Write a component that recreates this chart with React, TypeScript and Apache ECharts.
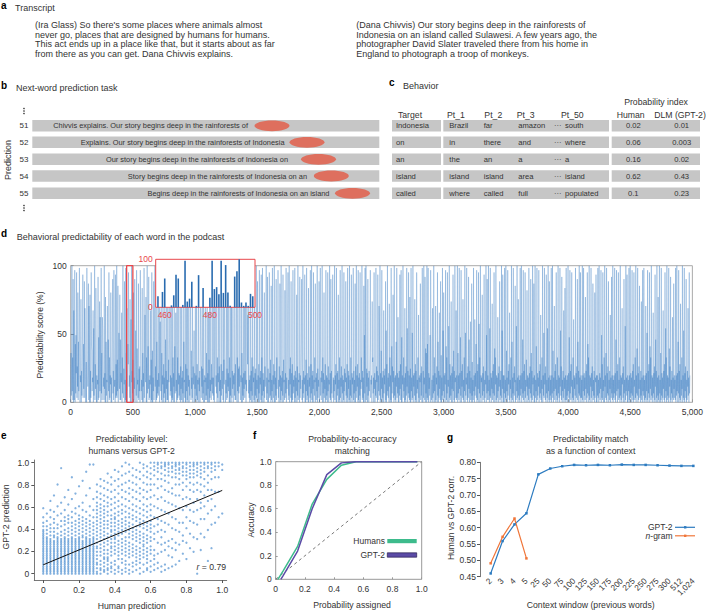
import React, { useEffect, useRef } from 'react';
import * as echarts from 'echarts';

const FONT = '"Liberation Sans", Arial, Helvetica, sans-serif';
const INK = '#333333';
const RED = '#E8474B';

// ---------- a. Transcript
const transcriptLeft = [
  "(Ira Glass) So there's some places where animals almost",
  'never go, places that are designed by humans for humans.',
  'This act ends up in a place like that, but it starts about as far',
  'from there as you can get. Dana Chivvis explains.',
];
const transcriptRight = [
  '(Dana Chivvis) Our story begins deep in the rainforests of',
  'Indonesia on an island called Sulawesi. A few years ago, the',
  'photographer David Slater traveled there from his home in',
  'England to photograph a troop of monkeys.',
];

// ---------- b. Next-word prediction task
const predictionRows = ['51', '52', '53', '54', '55'];
const predictionContexts = [
  'Chivvis explains. Our story begins deep in the rainforests of',
  'Explains. Our story begins deep in the rainforests of Indonesia',
  'Our story begins deep in the rainforests of Indonesia on',
  'Story begins deep in the rainforests of Indonesia on an',
  'Begins deep in the rainforests of Indonesia on an island',
];

// ---------- c. Behavior
const tableHeaders = ['Target', 'Pt_1', 'Pt_2', 'Pt_3', 'Pt_50', 'Human', 'DLM (GPT-2)'];
const targetWords = ['Indonesia', 'on', 'an', 'island', 'called'];
const pt1Words = ['Brazil', 'in', 'the', 'island', 'where'];
const pt2Words = ['far', 'there', 'an', 'island', 'called'];
const pt3Words = ['amazon', 'and', 'a', 'area', 'full'];
const pt50Words = ['south', 'where', 'a', 'island', 'populated'];
const humanProb = [0.02, 0.06, 0.16, 0.62, 0.1];
const gptProb = [0.01, 0.003, 0.02, 0.43, 0.23];

// shared 62-level code alphabet: char index / 61 -> fraction of full scale
const LEVELS = '0123456789abcdefghijklmnopqrstuvwxyzABCDEFGHIJKLMNOPQRSTUVWXYZ';

// ---------- d. Behavioral predictability (one code per sampled word)
const wordStep = 2.5;
const predictabilityCodes = [
  '0m3rZ5k1T0Fb1X0q4udW2g7N1r5fYs0c9K0e3hvV2q6jS2Gn0',
  '3i0Yla7cR1Hg0M0e2Wpn5b9F0x3kZ1h6Pu0c0a8U1t2dJ5Cg0',
  'Y4m1Cwi7b1Z6d0L0r3a9H0fs5W1k2c8N0b0gAT4e1Xp7a0V2h',
  '3Z2j5Q0cvb6M1s1d9E0k4Zb2f8S0a1Y0m5G0dqhWr7c2K0oB0',
  'Z9e4j0N1b6T0gwc3X0o8a2R1f5g0Xuc5a1P0m7d0Y2hDb9L0k',
  '0Z4ep6U1a2c8F0j1W0n0b5S1dxZ7g0I1r2a4Y3d7Q0fAa5Z1m',
  '0c8K0h2b4V0s0e6W1a1N0j9gtZ3c5T0b2X1k0d7H0p4aE5a0S1',
  'k2Z8d3c1M0g6Y1b0e4W0r9a2J0h0Z5f1V0c7O0a3dyX1n6b2T0',
  'g8kw0d6Z1c3W0h1a8R0b5e0Yvk2g7L1f4Z0a0c9U1b3m1X0d6E',
  '0j0Z2a5V1h8b4P3b1Y0fsZa7c4T0k2d9W0g5M0a0h3Zb6e1Q0j',
  '8Xqc0a4V1f2Z7d5N0k0b3S0Za2e6V0c8d3X1h1bzY0k5P0f4g7',
  'Za1c9W0m0b3L1d6Z2e8T0a5XuhDc4R2a0c1Y5e0k3W0g9b1M0d',
  '3f0Z2a6S1c0h4X0b8e1V0k3Y0d5a0N2g7crZ1b4U0f0a9W2d3j',
  '0Q1a5Y0c2h8Z0e0b3T1k6dpX2a0g7R0c1Z5b0e3V0j9a1O2d4Y',
  '0b6cGW1a3Z0f8k2S0d0h1X4a7c0Y2e0b5M0g3Z1a9d0U2c6kwT',
  '1a0Z4e2b8V0c0j5Y1d3a0P0g7b2X0h4Z1c0e6W0a3k9R0b1d5Z',
  '0f2a7S0cnY3b1e9Z0k4d0N2a6h0X1c3b0W5g0a8Z2d1T0e4jBV',
  '2b0a5Z1c8h0Y0d3e6M0a1k0X2b7g0Z4c0a1W5f0d9S3b0h2Y0e',
  '6c1Z0a3k0V2d8b0Y1e4a0R0g5Z2c7h0X1b0d3W0a6k9Z1e2b0Q',
  '0u4Ym0Z1f7d0T3b0e5hqX2a8c0Jik4b0W6d0a3Y2g9e0V1c5Hs',
  '3Z0d1n6X0b2e0F4c8f0S1w0h3Z5b2d0I7k0c1Y0p4g9M2e0Z3b',
  '1c0r7Y2d4C0b0e3V6h1X0t0c8Z2k5b0G1d0g3Y7x0e4W2c1L0f',
  '0Y5b1v2Z0c7d3K0h1e0W4a6k0D2b0c9R1d3g0Ys0e2Z8b1U0o',
  '4m0Z2q1Y0d6b3u0Xyh1a0G2c4Z0k5d0H1b8g0W3r0e2E6c1S0l',
  '0b3Y1w5N0c2d8X0p1k4W0a7y0Z2h1c3J0d6g0V5n1e0Z9b2F1c',
  '2Z0m4c1Y6d0t3X0e7h2K1a0k5Z0v3b8Y1d0g2U6s0e4A1b0R3i',
  '0a1Y5c0B3d7q2X0e1h6W0z4k0Z2c9b0M3d1g5V0a2e8Z0u4T1c',
  '5Z1a0x3Y2d0b6I1e4h0W3o0k8Z1c0b2C5d0g7S1a3e0Z2w6V0c',
  '0c4Y0a2Z1n5b0X3e8h1E0a6k2Z0r1b4Y0d3g9Q0a1y5Z2b0K3c',
  '1a0Y3c6Z0d2s4X1e0h5W2a0j7O3c0b1Y6d0g4T2m0e1Z8b3R0c',
  '0Z2a5p0Y1d3b7X0e2h4D1a0k6Z0c3v2Y8d1g0V4a2x0Z5b1S0c',
  '3a1Y0c4Z2n0b5H1e6h0W3a1k0Z4c2b0Y7w3g1U0a5e2F0b6P1c',
  '0Y1a3c0Z5d2t0X4e1h7W0a2k1B0c6b3Y0d2g8T1r0e4Z3b0W2c',
  '2a0Z1c5Y0d3b1L6e0h2W4q0k3Z1c0b7Y2d0g5R1a3e0N2b9V0c',
  '0c3Y2a0Z4d1b6X0u2h1W5a0k0Z7c2m1Y0d4g3S0a1e6D0b2U4c',
  '1Z0a2c4Y1d0s3X5e0h6W1a2k0Z3c1b0G8d2g0T4a0y1Z5b3V0c',
  '0a5Y1c0Z2d4b0X3e1h0W7a1k2Z0c4o3Y0d1g6Q2a0e3J1b0X5c',
  '3Y0a1c2H0d5v1X0e4h2W0p6k1Z3c0b2E4d0g1V7s0e2Z0b3L1c',
  '0Z4a0m1Y3d0b2F6e1h0W2x5k0Z1c3b0Y2o7g0U1a4e0C2b1R6c',
  '2a1Y0c3Z5d0r4X0e2h1I0a3k6Z0c2w1Y0d5g2T0a1e7G3b0W4c',
];
const highlightRange = [450, 500];
const insetStart = 457;
const insetScores = [
  23, 0, 32, 60, 0, 0, 4, 25, 68, 60, 0, 5, 97, 12, 18, 53, 0, 3, 67, 0, 40, 0,
  0, 20, 97, 38, 42, 27, 97, 30, 88, 31, 3, 0, 64, 75, 100, 10, 3, 10, 3, 28, 23,
];

// ---------- e. Humans vs GPT-2 (one string per human-prediction column k/50)
const scatterColumns = [
  '0123456789abcdefghijklmnoqsvA',
  '0123456789abcdefghijkmoqtx',
  '0123456789abcdefghijlnprvzE',
  '0123456789abcdefghiklnpsuyH',
  '0123456789abcdefghijkmprwBN',
  '0123456789abcdefghijlnqtxDW',
  '0123456789abcdefghijkmortvzG',
  '0123456789abcdefghijlnpsuwCK',
  '0123456789abcdefghijkmoqsvyFR',
  '0123456789abcdefghijlnprtxAI',
  '0123456789abcdefghijkmoqsuwBM',
  '0123456789abcdefghiklnprtvzDP',
  '0123456789abcdefghijkmoqsuyHU',
  '0123456789abcdefghijlnprtwBLY',
  '0123456789abcdefghijkmoqsvzFY',
  '013568acefhjlnprtvxzBDGJN',
  '02357acegikmoqsuwyACFIMQ',
  '124689bdfhjlnprtvxzBEHLP',
  '0235789bdgikmprtwyBDGKOT',
  '1346acefhjlnoqsuwzCFJNR',
  '0257bdfhjkmoqsuvxADGKPV',
  '1348acegilnprtwyBEIMQU',
  '0268bdfhjmoqsuxzCGKNSX',
  '1357acegiknprtvyBFJOTZ',
  '0259bdfhkmoqsvxAEILPUY',
  '146acegjlnpruwzCGKOSW',
  '2579bdfikmoqtvyBFJNRV',
  '0368acehjlnqsuxAEILQUZ',
  '159bdfgikmprtwzCGKOSWY',
  '2368acehjloqsvyBFJNRUX',
  '147bdfiknprtwzCGKNQTWZ',
  '258adjmqvBHNSVXZ',
  '36bhnruAFLQUWYZ',
  '14cgkotzGMQTWXZ',
  '25dhnsyEKPSVXYZ',
  '3afirxDJOSUWYZ',
  '49ejpvCILRUWXZ',
  '5dhouBHNRTVXYZ',
  '7gnsAHNQTVWYZ',
  'bilszFKOSUWXZ',
  '8hpvBGMQSUWYZ',
  'emtzFKORTVXZ',
  'cksyDJNRTVXYZ',
  '0jrzFKOSUWYZ',
  'dmuADJNRTVXZ',
  'kuBHMQUWYZ',
  '7oxEKOSWXZ',
  'erzFKQUWYZ',
  'sBJRVXZ',
  'vJRXZ',
  'xVY',
];
const fitX = [0, 1];
const fitY = [0.08, 0.75];
const correlation = '0.79';

// ---------- f. Probability-to-accuracy matching
const humansX = [0.015, 0.05, 0.15, 0.25, 0.35, 0.45, 0.55, 0.65, 0.75, 0.85, 0.97];
const humansAcc = [0, 0.07, 0.28, 0.64, 0.85, 0.97, 1, 1, 1, 1, 1];
const gptX = [0.035, 0.05, 0.15, 0.25, 0.35, 0.45, 0.55, 0.65, 0.75, 0.85, 0.97];
const gptAcc = [0, 0.03, 0.24, 0.6, 0.89, 0.99, 1, 1, 1, 1, 1];
const diagonal = [0, 1];

// ---------- g. Predictability match vs context
const contextLabels = ['2', '3', '4', '5', '25', '50', '75', '100', '125', '150', '175', '200', '225', '250', '275', '300', '512', '1,024'];
const gptCorr = [0.46, 0.559, 0.61, 0.644, 0.763, 0.781, 0.788, 0.792, 0.791, 0.792, 0.791, 0.793, 0.792, 0.792, 0.791, 0.79, 0.789, 0.789];
const ngramCorr = [0.491, 0.572, 0.628, 0.506];

const ticks01 = [0, 0.2, 0.4, 0.6, 0.8, 1];
const fmt01 = (v: number) => (v === 0 ? '0' : v.toFixed(1));

function buildOption() {
  const els: any[] = [];
  const text = (t: string, x: number, y: number, o: any = {}) => {
    els.push({
      type: 'text', x, y, rotation: o.rot || 0, z: 100, silent: true,
      style: {
        text: t, fill: o.fill || INK, fontSize: o.size || 9, fontFamily: FONT,
        fontWeight: o.bold ? 'bold' : 'normal', fontStyle: o.italic ? 'italic' : 'normal',
        textAlign: o.align || 'left', textVerticalAlign: 'middle',
        align: o.align || 'left', verticalAlign: 'middle', rich: o.rich,
      },
    });
  };
  const rect = (x: number, y: number, w: number, h: number, fill: string, z = 90) =>
    els.push({ type: 'rect', z, silent: true, shape: { x, y, width: w, height: h }, style: { fill } });
  const letter = (t: string, x: number, y: number) => text(t, x, y, { bold: true, size: 10, fill: '#000' });

  // a
  letter('a', 1, 5.5);
  text('Transcript', 15, 8, { size: 9 });
  const paraY = [25, 34.5, 44, 53.5];
  transcriptLeft.forEach((l, i) => text(l, 35, paraY[i], { size: 9 }));
  transcriptRight.forEach((l, i) => text(l, 356.3, paraY[i], { size: 9 }));

  // b
  letter('b', 1, 85);
  text('Next-word prediction task', 16, 87.5, { size: 9 });
  const rowY = [125.8, 142.3, 159.3, 176, 193.3];
  const rowH = 11.6;
  const ctxRight = [248, 284.5, 288, 307, 329.5];
  const blobCx = [272, 307, 318.5, 331.3, 352.5];
  [108.5, 111, 113.5, 205.5, 208, 210.5].forEach((cy) =>
    els.push({ type: 'circle', z: 100, silent: true, shape: { cx: 24, cy, r: 0.75 }, style: { fill: INK } }));
  text('Prediction', 7.5, 160, { rot: Math.PI / 2, align: 'center', size: 9 });
  predictionRows.forEach((r, i) => {
    text(r, 24, rowY[i], { align: 'center', size: 8 });
    rect(32.3, rowY[i] - rowH / 2, 347, rowH, '#C6C6C6');
    text(predictionContexts[i], ctxRight[i], rowY[i], { align: 'right', size: 7.4 });
    els.push({ type: 'ellipse', z: 95, silent: true, shape: { cx: blobCx[i], cy: rowY[i], rx: 17.5, ry: 5.4 }, style: { fill: '#DE6F5E' } });
  });

  // c
  letter('c', 389, 82);
  text('Behavior', 403, 85.5, { size: 9 });
  text('Probability index', 656, 101.5, { align: 'center', size: 8.7 });
  const headX = [410, 456, 493.3, 525.7, 572.3, 630.7, 680];
  tableHeaders.forEach((h, i) => text(h, headX[i], 114.5, { align: 'center', size: 8.7 }));
  const colLeft = [396, 449.3, 483.7, 518.3, 565];
  const colWords = [targetWords, pt1Words, pt2Words, pt3Words, pt50Words];
  targetWords.forEach((_, i) => {
    const y = rowY[i];
    rect(392, y - rowH / 2, 49, rowH, '#C6C6C6');
    rect(443.3, y - rowH / 2, 165.7, rowH, '#C6C6C6');
    rect(611.7, y - rowH / 2, 88.3, rowH, '#C6C6C6');
    colWords.forEach((col, c) => text(col[i], colLeft[c], y, { size: 7.6 }));
    text('\u00b7\u00b7\u00b7', 557.7, y, { align: 'center', size: 7.6 });
    text(String(humanProb[i]), 633.3, y, { align: 'center', size: 7.6 });
    text(String(gptProb[i]), 681.7, y, { align: 'center', size: 7.6 });
  });

  // d
  letter('d', 1, 233.5);
  text('Behavioral predictability of each word in the podcast', 16.7, 237, { size: 9 });
  text('Predictability score (%)', 40, 335, { rot: Math.PI / 2, align: 'center', size: 8.5 });

  // e
  letter('e', 1, 435);
  text('Predictability level:', 131.7, 439.3, { align: 'center', size: 8.7 });
  text('humans versus GPT-2', 131.7, 451, { align: 'center', size: 8.7 });
  text('GPT-2 prediction', 5.5, 517, { rot: Math.PI / 2, align: 'center', size: 8.7 });
  text('Human prediction', 131.7, 605.5, { align: 'center', size: 8.7 });
  text('{i|r} = ' + correlation, 196.5, 567, {
    size: 8.7,
    rich: { i: { fontStyle: 'italic', fontSize: 8.7, fontFamily: FONT, fill: INK } },
  });

  // f
  letter('f', 253, 435);
  text('Probability-to-accuracy', 352.3, 439.3, { align: 'center', size: 8.7 });
  text('matching', 352.3, 451, { align: 'center', size: 8.7 });
  text('Accuracy', 251, 520, { rot: Math.PI / 2, align: 'center', size: 8.5 });
  text('Probability assigned', 352, 604.5, { align: 'center', size: 8.7 });
  text('Humans', 385, 541, { align: 'right', size: 8.5 });
  text('GPT-2', 385, 555, { align: 'right', size: 8.5 });
  rect(387.3, 539, 29.4, 4.2, '#3DBB8C', 100);
  els.push({ type: 'rect', z: 100, silent: true, shape: { x: 387.3, y: 552.8, width: 29.4, height: 4.4 }, style: { fill: '#5B4BA6', stroke: '#2a2050', lineWidth: 0.7 } });

  // g
  letter('g', 447, 437);
  text('Predictability match', 590.7, 439.3, { align: 'center', size: 8.7 });
  text('as a function of context', 590.7, 451, { align: 'center', size: 8.7 });
  text('Human vs GPT-2 corr.', 451, 518, { rot: Math.PI / 2, align: 'center', size: 8.5 });
  text('Context window (previous words)', 590.7, 605, { align: 'center', size: 8.7 });
  text('GPT-2', 672.5, 527.3, { align: 'right', size: 8.5 });
  text('{i|n}-gram', 672.5, 535.8, {
    align: 'right', size: 8.5,
    rich: { i: { fontStyle: 'italic', fontSize: 8.5, fontFamily: FONT, fill: INK } },
  });
  els.push({ type: 'line', z: 100, silent: true, shape: { x1: 675, y1: 527.3, x2: 695, y2: 527.3 }, style: { stroke: '#2C7BC0', lineWidth: 1.2 } });
  rect(684, 526.1, 2.4, 2.4, '#2C7BC0', 101);
  els.push({ type: 'line', z: 100, silent: true, shape: { x1: 675, y1: 535.8, x2: 695, y2: 535.8 }, style: { stroke: '#F0763A', lineWidth: 1.2 } });
  rect(684, 534.6, 2.4, 2.4, '#F0763A', 101);

  // ---------- data
  const dData = predictabilityCodes.join('').split('').map((c, i) => [i * wordStep, (LEVELS.indexOf(c) / 61) * 100]);
  const insetData = insetScores.map((v, i) => [insetStart + i, v]);
  const [h0, h1] = highlightRange;
  const highlight = [[h0, 0], [h1, 0], [h1, 100], [h0, 100], [h0, 0]];
  const scatterData: number[][] = [];
  scatterColumns.forEach((col, k) => col.split('').forEach((c) => scatterData.push([k / 50, LEVELS.indexOf(c) / 61])));

  const lbl = (o: any = {}) => ({ fontSize: 8.5, color: INK, fontFamily: FONT, ...o });
  const noSplit = { show: false };

  return {
    animation: false,
    backgroundColor: '#ffffff',
    textStyle: { fontFamily: FONT },
    grid: [
      { left: 70.7, top: 265.7, width: 624.3, height: 136.6, show: true, borderColor: '#aaaaaa', borderWidth: 1, backgroundColor: 'transparent' },
      { left: 155.7, top: 259.3, width: 99.3, height: 48, show: true, backgroundColor: '#ffffff', borderColor: RED, borderWidth: 1, z: 5 },
      { left: 34.3, top: 460, width: 192.4, height: 120 },
      { left: 275.7, top: 461.7, width: 146, height: 117.6, show: true, borderColor: '#999999', borderWidth: 1, backgroundColor: 'transparent' },
      { left: 484.7, top: 462.3, width: 214.6, height: 114.4 },
    ],
    xAxis: [
      { gridIndex: 0, type: 'value', min: 0, max: 5000, interval: 500, splitLine: noSplit, axisLine: { show: false },
        axisTick: { show: true, inside: true, length: 3, lineStyle: { color: '#999' } },
        axisLabel: lbl({ margin: 5, formatter: (v: number) => v.toLocaleString('en-US') }) },
      { gridIndex: 1, type: 'value', min: 456, max: 500, z: 6, splitLine: noSplit, axisLine: { show: false }, axisTick: { show: false },
        axisLabel: lbl({ color: RED, margin: 3, customValues: [460, 480, 500] }) },
      { gridIndex: 2, type: 'value', min: -0.05, max: 1.025, splitLine: noSplit,
        axisLine: { show: true, onZero: false, lineStyle: { color: '#555', width: 0.8 } },
        axisTick: { show: true, customValues: ticks01, length: 3, lineStyle: { color: '#555' } },
        axisLabel: lbl({ margin: 5, customValues: ticks01, formatter: fmt01 }) },
      { gridIndex: 3, type: 'value', min: 0, max: 1, interval: 0.2, splitLine: noSplit, axisLine: { show: false },
        axisTick: { show: true, inside: true, length: 2, lineStyle: { color: '#999' } },
        axisLabel: lbl({ margin: 5, formatter: fmt01 }) },
      { gridIndex: 4, type: 'category', data: contextLabels, boundaryGap: true, axisLine: { show: false }, axisTick: { show: false },
        axisLabel: lbl({ fontSize: 8.2, rotate: 45, margin: 3, interval: 0 }) },
    ],
    yAxis: [
      { gridIndex: 0, type: 'value', min: 0, max: 100, interval: 50, splitLine: noSplit, axisLine: { show: false },
        axisTick: { show: true, inside: true, length: 3, lineStyle: { color: '#999' } }, axisLabel: lbl({ margin: 4 }) },
      { gridIndex: 1, type: 'value', min: 0, max: 100, z: 6, splitLine: noSplit, axisLine: { show: false }, axisTick: { show: false },
        axisLabel: lbl({ color: RED, margin: 3, customValues: [0, 100] }) },
      { gridIndex: 2, type: 'value', min: -0.057, max: 1.024, splitLine: noSplit,
        axisLine: { show: true, onZero: false, lineStyle: { color: '#555', width: 0.8 } },
        axisTick: { show: true, customValues: ticks01, length: 3, lineStyle: { color: '#555' } },
        axisLabel: lbl({ margin: 5, customValues: ticks01, formatter: fmt01 }) },
      { gridIndex: 3, type: 'value', min: 0, max: 1, interval: 0.2, splitLine: noSplit, axisLine: { show: false },
        axisTick: { show: true, inside: true, length: 2, lineStyle: { color: '#999' } },
        axisLabel: lbl({ margin: 4, formatter: fmt01 }) },
      { gridIndex: 4, type: 'value', min: 0.45, max: 0.8, interval: 0.05, offset: 4.7, splitLine: noSplit,
        axisLine: { show: true, onZero: false, lineStyle: { color: '#555', width: 0.8 } },
        axisTick: { show: true, length: 3, lineStyle: { color: '#555' } },
        axisLabel: lbl({ margin: 4, formatter: (v: number) => v.toFixed(2) }) },
    ],
    series: [
      { type: 'line', xAxisIndex: 0, yAxisIndex: 0, data: dData, showSymbol: false, symbol: 'none', silent: true, z: 2,
        lineStyle: { width: 0.65, color: 'rgba(42,112,190,0.45)' } },
      { type: 'line', xAxisIndex: 0, yAxisIndex: 0, data: highlight, symbol: 'none', silent: true, z: 4,
        lineStyle: { width: 1.3, color: RED } },
      { type: 'bar', xAxisIndex: 1, yAxisIndex: 1, data: insetData, barWidth: 1.6, silent: true, z: 6,
        itemStyle: { color: '#2A6CB0' } },
      { type: 'scatter', xAxisIndex: 2, yAxisIndex: 2, data: scatterData, symbolSize: 2.3, silent: true,
        itemStyle: { color: 'rgba(38,118,198,0.7)' } },
      { type: 'line', xAxisIndex: 2, yAxisIndex: 2, data: fitX.map((x, i) => [x, fitY[i]]), symbol: 'none', silent: true, z: 5,
        lineStyle: { width: 1, color: '#111' } },
      { type: 'line', xAxisIndex: 3, yAxisIndex: 3, data: diagonal.map((d) => [d, d]), symbol: 'none', silent: true,
        lineStyle: { width: 0.8, color: '#555', type: [3, 3] } },
      { type: 'line', xAxisIndex: 3, yAxisIndex: 3, data: humansX.map((x, i) => [x, humansAcc[i]]), symbol: 'none', silent: true,
        lineStyle: { width: 1.5, color: '#3DBB8C' } },
      { type: 'line', xAxisIndex: 3, yAxisIndex: 3, data: gptX.map((x, i) => [x, gptAcc[i]]), symbol: 'none', silent: true,
        lineStyle: { width: 1.5, color: '#5B4BA6' } },
      { type: 'line', xAxisIndex: 4, yAxisIndex: 4, data: gptCorr, symbol: 'rect', symbolSize: 2.5, silent: true,
        lineStyle: { width: 1.2, color: '#2C7BC0' }, itemStyle: { color: '#2C7BC0' } },
      { type: 'line', xAxisIndex: 4, yAxisIndex: 4, data: ngramCorr, symbol: 'rect', symbolSize: 2.5, silent: true,
        lineStyle: { width: 1.2, color: '#F0763A' }, itemStyle: { color: '#F0763A' } },
    ],
    graphic: { elements: els },
  };
}

export default function App() {
  const ref = useRef<HTMLDivElement>(null);
  useEffect(() => {
    if (!ref.current) return;
    const chart = echarts.init(ref.current, undefined, { renderer: 'svg' });
    chart.setOption(buildOption() as any);
    return () => chart.dispose();
  }, []);
  return (
    <div
      ref={ref}
      style={{ position: 'absolute', left: 0, top: 0, width: 706, height: 611, background: '#fff' }}
    />
  );
}
